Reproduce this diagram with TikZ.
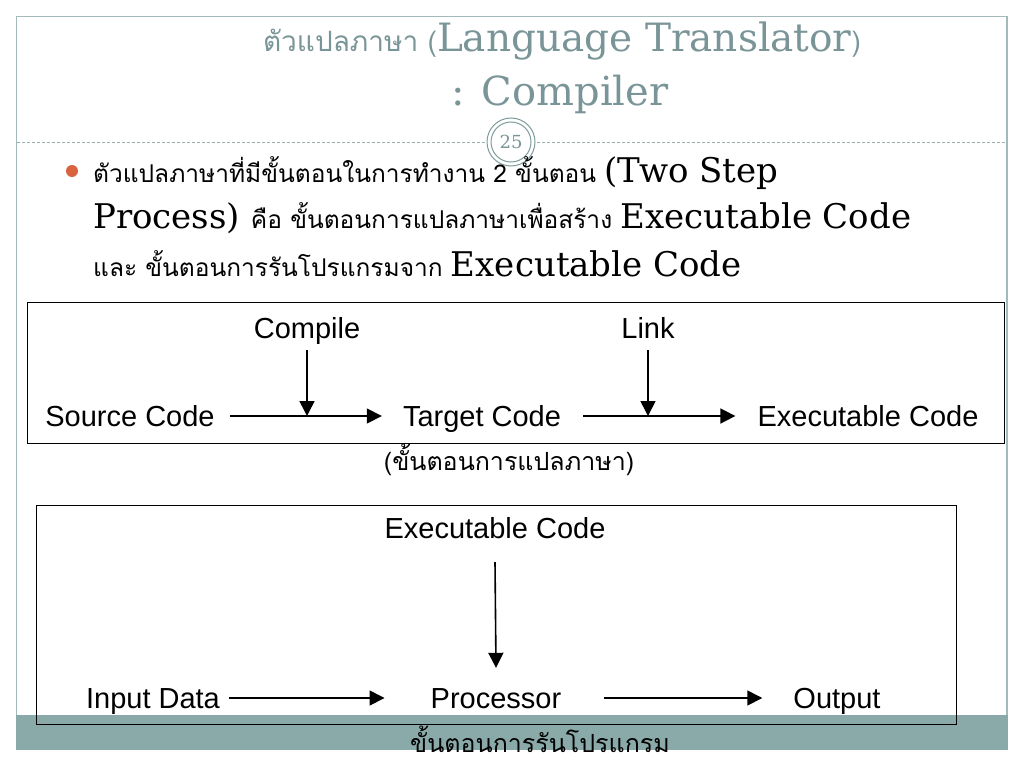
\documentclass[tikz,border=0pt]{standalone}
\usepackage{fontspec}
\setmainfont{DejaVu Serif}
\newfontfamily\thai[Script=Thai]{Loma}
\newfontfamily\arial{Liberation Sans}
\usetikzlibrary{arrows.meta}
\definecolor{frameC}{HTML}{A3BABA}
\definecolor{titleC}{HTML}{7A9598}
\definecolor{bandC}{HTML}{8AA9A9}
\definecolor{bulletC}{HTML}{D9623F}
\definecolor{ringC}{HTML}{7E9C9C}
\tikzset{
  lbl/.style={font=\arial\fontsize{29}{34}\selectfont, inner sep=0pt, text height=20pt, text depth=0pt},
  arr/.style={line width=1.6pt, -{Triangle[length=15pt,width=15pt]}},
  boxC/.style={draw=black, line width=1pt},
  txt/.style={inner sep=0pt, anchor=base west, align=left},
}
\newcommand{\thS}{\thai\fontsize{24.5}{30}\selectfont}
\newcommand{\laS}{\fontsize{34}{40}\selectfont}
\begin{document}
\begin{tikzpicture}[x=1pt,y=-1pt]
\useasboundingbox (0,0) rectangle (1024,768);
\fill[white] (0,0) rectangle (1024,768);
% slide frame
\fill[bandC] (16,715) rectangle (1008,750);
\draw[frameC, line width=1.5pt] (16.5,715) -- (16.5,16.7) -- (1007,16.7) -- (1007,715);
\draw[ringC!80, line width=1pt, dash pattern=on 3pt off 2pt] (17,142.5) -- (1006,142.5);
% page number ring
\node[circle, draw=ringC, fill=white, line width=1pt, minimum size=48pt, inner sep=0pt] (ring) at (511,142) {};
\node[circle, draw=ringC, line width=1pt, minimum size=40pt, inner sep=0pt,
      font=\fontsize{18}{20}\selectfont, text=titleC] (pg) at (511,142) {25};
% title
\node[inner sep=0pt, anchor=base, text=titleC] (t1) at (562,52)
  {{\thai\fontsize{28}{32}\selectfont ตัวแปลภาษา (}{\fontsize{39}{46}\selectfont Language Translator}{\thai\fontsize{28}{32}\selectfont )}};
\node[inner sep=0pt, anchor=base, text=titleC, font=\fontsize{40}{46}\selectfont] (t2) at (560,105) {: Compiler};
% bullet
\node[circle, fill=bulletC, minimum size=12pt, inner sep=0pt] (bul) at (72,171) {};
\node[txt] (l1) at (93,182) {{\thS ตัวแปลภาษาที่มีขั้นตอนในการทำงาน 2 ขั้นตอน }{\laS (Two Step}};
\node[txt] (l2) at (93,228) {{\laS Process) }{\thS คือ ขั้นตอนการแปลภาษาเพื่อสร้าง }{\laS Executable Code}};
\node[txt] (l3) at (93,276) {{\thS และ ขั้นตอนการรันโปรแกรมจาก }{\laS Executable Code}};
% box 1
\node[boxC, minimum width=977pt, minimum height=141pt, inner sep=0pt] (box1) at (515.5,372.5) {};
\node[lbl] (src) at (130,416) {Source Code};
\node[lbl] (tgt) at (482,416) {Target Code};
\node[lbl] (exe1) at (868,416) {Executable Code};
\node[lbl] (comp) at (307,328) {Compile};
\node[lbl] (link) at (648,328) {Link};
\draw[arr] ([xshift=15pt]src.east) -- ([xshift=-21pt]tgt.west);
\draw[arr] ([xshift=22pt]tgt.east) -- ([xshift=-22pt]exe1.west);
\draw[arr] ([yshift=-12pt]comp.south) -- (comp |- src);
\draw[arr] ([yshift=-12pt]link.south) -- (link |- src);
\node[inner sep=0pt, anchor=base] (cap1) at (509,470) {\thai\fontsize{25}{30}\selectfont (ขั้นตอนการแปลภาษา)};
% box 2
\node[boxC, minimum width=920pt, minimum height=219pt, inner sep=0pt] (box2) at (496,614.5) {};
\node[lbl] (exe2) at (495,528) {Executable Code};
\node[lbl] (in) at (153,698) {Input Data};
\node[lbl] (proc) at (496,698) {Processor};
\node[lbl] (out) at (837,698) {Output};
\draw[arr] ([yshift=-24pt]exe2.south) -- ([yshift=20pt]proc.north);
\draw[arr] ([xshift=9pt]in.east) -- ([xshift=-46pt]proc.west);
\draw[arr] ([xshift=43pt]proc.east) -- ([xshift=-31pt]out.west);
\node[inner sep=0pt, anchor=base] (cap2) at (540,752) {\thai\fontsize{25}{30}\selectfont ขั้นตอนการรันโปรแกรม};
\end{tikzpicture}
\end{document}
